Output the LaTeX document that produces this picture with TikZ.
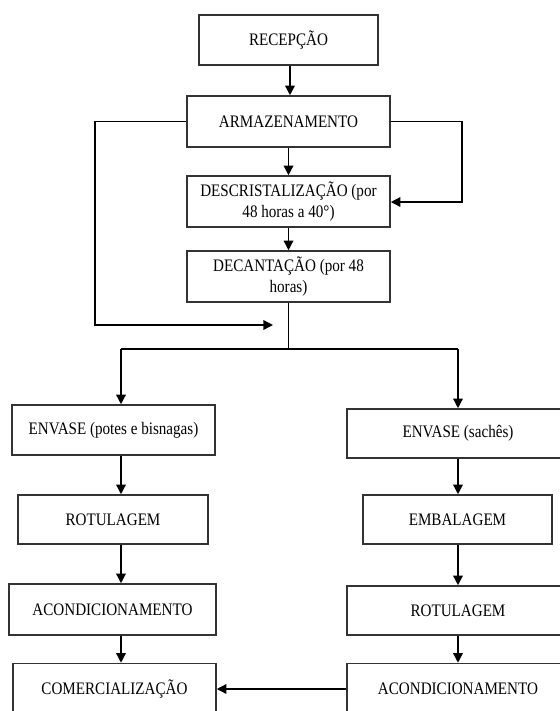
\documentclass[tikz,border=0pt]{standalone}
\usepackage{fontspec}
\setmainfont{Liberation Serif}[FakeStretch=0.86]
\usepackage{tikz}
\usetikzlibrary{arrows.meta}
\tikzset{etapa/.style = {draw = black!80, line width = 0.9pt, inner sep = 0, align = center,
    font = \fontsize{10}{11.5}\selectfont}}
\tikzset{seta/.style = {line width = 0.8pt, -{Triangle[length = 5.5pt, width = 5.5pt]}}}
\tikzset{linha/.style = {line width = 0.8pt}}

\begin{document}
\begin{tikzpicture}[x = 0.02cm, y = -0.02cm]
      \useasboundingbox (0, 0) rectangle (560, 711);
      \clip (0, 0) rectangle (560, 711);
      \node [etapa, minimum width = 3.58cm, minimum height = 1.0cm] (recepcao) at (288.5, 40) {RECEPÇÃO};
      \node [etapa, minimum width = 4.06cm, minimum height = 1.02cm] (armaz) at (288.5, 121.5) {ARMAZENAMENTO};
      \node [etapa, minimum width = 4.06cm, minimum height = 1.02cm] (descrist) at (288.5, 201.5) {DESCRISTALIZAÇÃO (por\\48 horas a 40°)};
      \node [etapa, minimum width = 4.06cm, minimum height = 1.02cm] (decant) at (288.5, 276.5) {DECANTAÇÃO (por 48\\horas)};
      \node [etapa, minimum width = 4.06cm, minimum height = 1.0cm] (envaseL) at (113.5, 430) {ENVASE (potes e bisnagas)};
      \node [etapa, minimum width = 3.8cm, minimum height = 0.98cm] (rotulL) at (113, 519.5) {ROTULAGEM};
      \node [etapa, minimum width = 4.14cm, minimum height = 1.02cm] (acondL) at (112.5, 609.5) {ACONDICIONAMENTO};
      \node [etapa, minimum width = 4.06cm, minimum height = 1.02cm] (comerc) at (114.5, 689) {COMERCIALIZAÇÃO};
      \node [etapa, minimum width = 4.44cm, minimum height = 0.98cm] (envaseR) at (458, 433.5) {ENVASE (sachês)};
      \node [etapa, minimum width = 3.78cm, minimum height = 0.98cm] (embal) at (457.5, 519.5) {EMBALAGEM};
      \node [etapa, minimum width = 4.44cm, minimum height = 0.98cm] (rotulR) at (458, 610.5) {ROTULAGEM};
      \node [etapa, minimum width = 4.44cm, minimum height = 1.02cm] (acondR) at (458, 689) {ACONDICIONAMENTO};
      \coordinate (colL) at (121, 349);
      \coordinate (colR) at (458, 349);
      \coordinate (voltaE) at (95, 325);
      \coordinate (juncao) at (273, 325);
      \coordinate (voltaD) at (462, 202);
      % tronco principal
      \draw [seta] (recepcao.south -| 290, 0) -- (armaz.north -| 290, 0);
      \draw [seta] (armaz) -- (descrist);
      \draw [seta] (descrist) -- (decant);
      \draw [linha] (decant.south) -- (decant.south |- colL);
      \draw [linha] (colL) -- (colR);
      % retornos
      \draw [seta] (armaz.west) -| (voltaE) -- (juncao);
      \draw [seta] (armaz.east) -| (voltaD) -- (descrist.east |- voltaD);
      % coluna esquerda
      \draw [seta] (colL) -- (envaseL.north -| colL);
      \draw [seta] (envaseL.south -| colL) -- (rotulL.north -| colL);
      \draw [seta] (rotulL.south -| colL) -- (acondL.north -| colL);
      \draw [seta] (acondL.south -| colL) -- (comerc.north -| colL);
      % coluna direita
      \draw [seta] (colR) -- (envaseR.north -| colR);
      \draw [seta] (envaseR.south -| colR) -- (embal.north -| colR);
      \draw [seta] (embal.south -| colR) -- (rotulR.north -| colR);
      \draw [seta] (rotulR.south -| colR) -- (acondR.north -| colR);
      \draw [seta] (acondR.west) -- (comerc.east);
    \end{tikzpicture}
\end{document}
